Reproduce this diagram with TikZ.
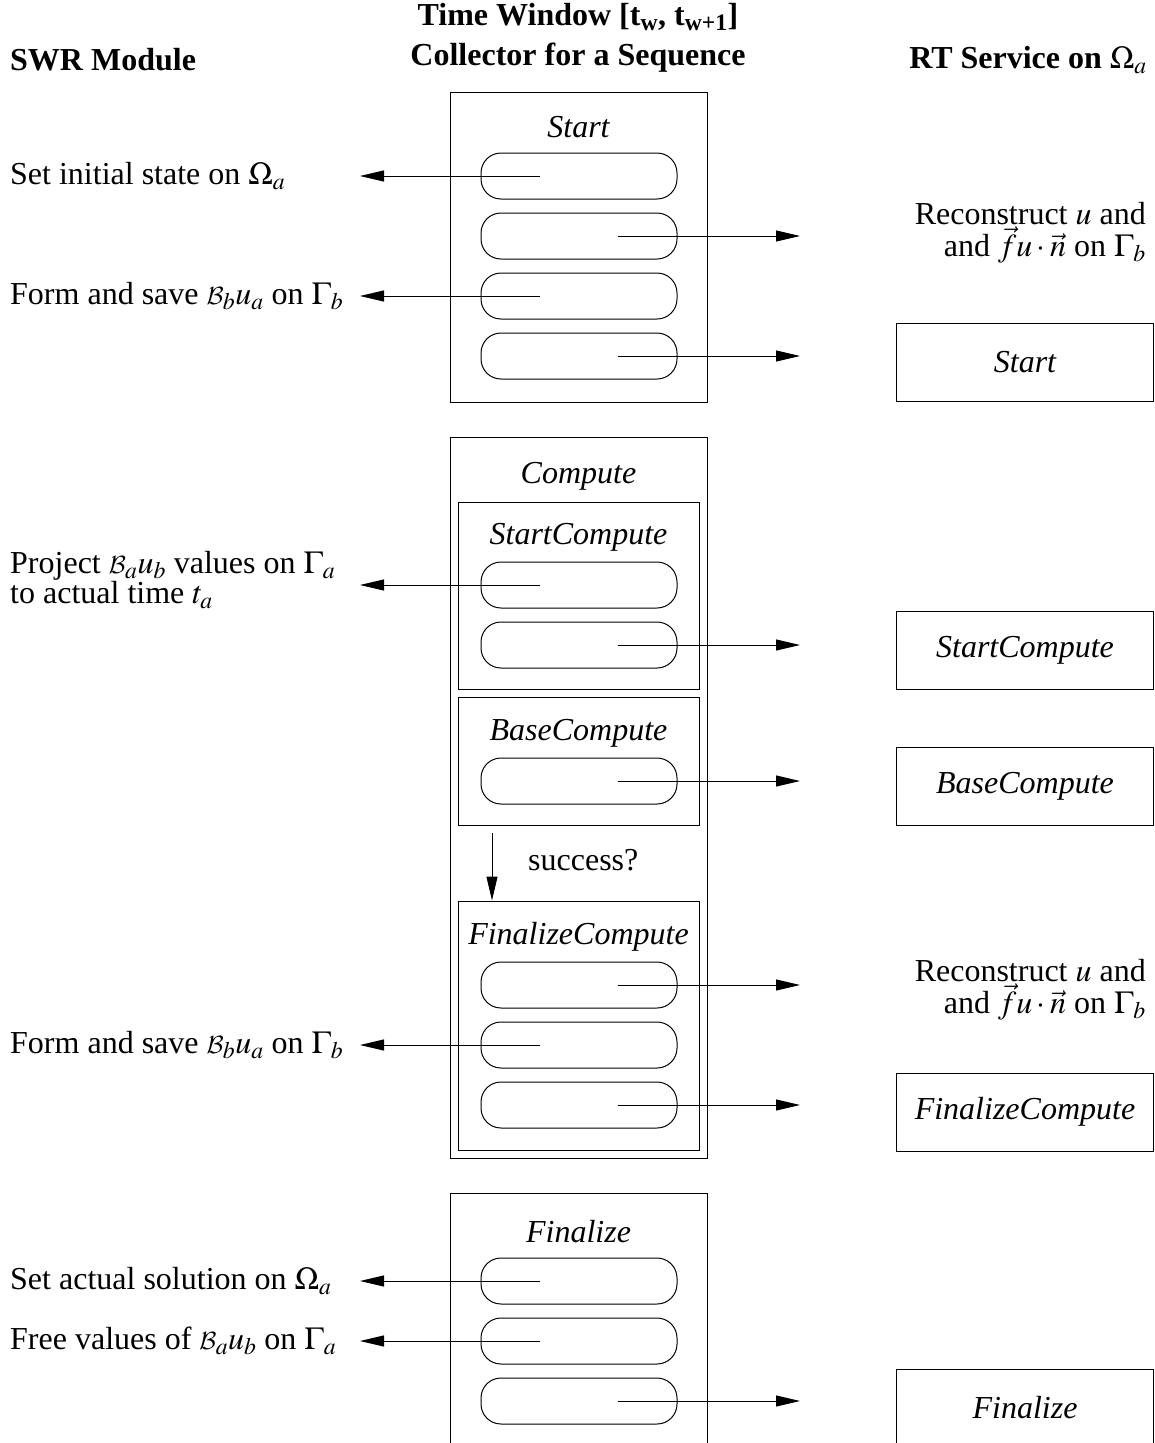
\documentclass[tikz,border=0pt]{standalone}
\usepackage{mathptmx}
\DeclareMathAlphabet{\mathcal}{OMS}{cmsy}{m}{n}
\usepackage[no-math]{fontspec}
\setmainfont{Liberation Serif}
\usetikzlibrary{arrows.meta}
\begin{document}
\begin{tikzpicture}[x=1pt,y=-1pt,
  font=\fontsize{32}{30}\selectfont,
  frame/.style={draw, line width=1pt, minimum width=257pt, inner sep=0pt},
  subframe/.style={draw, line width=1pt, minimum width=241pt, inner sep=0pt},
  rb/.style={draw, line width=1pt, rounded corners=20pt, minimum width=196pt, minimum height=46pt, inner sep=0pt},
  rbox/.style={draw, line width=1pt, minimum width=257pt, minimum height=78pt, inner sep=0pt, font=\fontsize{32}{30}\selectfont\itshape},
  ttl/.style={font=\fontsize{32}{30}\selectfont\itshape, inner sep=0pt},
  lab/.style={inner sep=0pt, anchor=west, align=left},
  rlab/.style={inner sep=0pt, anchor=east, align=right},
  hdr/.style={inner sep=0pt, font=\fontsize{32}{32}\selectfont\bfseries},
  arr/.style={line width=1pt, -{Triangle[length=24pt,width=11pt]}}]
\useasboundingbox (0,0) rectangle (1155,1443);
\clip (0,0) rectangle (1155,1443);

% headers
\node[hdr] (h1) at (578,17) {Time Window [t\textsubscript{w}, t\textsubscript{w+1}]};
\node[hdr] (h2) at (578,58) {Collector for a Sequence};
\node[hdr, anchor=west] (h3) at (10,60) {SWR Module};
\node[hdr, anchor=east] (h4) at (1147,60) {RT Service on \mdseries$\Omega_a$};

% ---------- Start ----------
\node[frame, minimum height=310pt] (startF) at (578.5,247) {};
\node[ttl] (startT) at (578.5,127) {Start};
\node[rb] (s1) at (579,176) {};
\node[rb] (s2) at (579,236) {};
\node[rb] (s3) at (579,296) {};
\node[rb] (s4) at (579,356) {};
\node[lab] (ls1) at (10,176) {Set initial state on $\Omega_a$};
\node[lab] (ls3) at (10,296) {Form and save $\mathcal{B}_b u_a$ on $\Gamma_b$};
\node[rlab] (rs2) at (1146,233) {Reconstruct $u$ and\\and $\vec{f}u\cdot\vec{n}$ on $\Gamma_b$};
\node[rbox] (RStart) at (1025,362) {Start};
\coordinate (t1) at (360,176);
\coordinate (t2) at (800,236);
\coordinate (t3) at (360,296);
\coordinate (t4) at (800,356);
\draw[arr] ([xshift=-39pt]s1.center) -- (t1);
\draw[arr] ([xshift=39pt]s2.center) -- (t2);
\draw[arr] ([xshift=-39pt]s3.center) -- (t3);
\draw[arr] ([xshift=39pt]s4.center) -- (t4);

% ---------- Compute ----------
\node[frame, minimum height=721pt] (compF) at (578.5,797.5) {};
\node[ttl] (compT) at (578.5,476) {Compute};
% StartCompute
\node[subframe, minimum height=187pt] (scF) at (578.5,595.5) {};
\node[ttl] (scT) at (578.5,537) {StartCompute};
\node[rb] (c1) at (579,585) {};
\node[rb] (c2) at (579,645) {};
\node[lab] (lc1) at (10,580) {Project $\mathcal{B}_a u_b$ values on $\Gamma_a$\\to actual time $t_a$};
\node[rbox] (RSC) at (1025,650) {StartCompute};
\coordinate (t5) at (360,585);
\coordinate (t6) at (800,645);
\draw[arr] ([xshift=-39pt]c1.center) -- (t5);
\draw[arr] ([xshift=39pt]c2.center) -- (t6);
% BaseCompute
\node[subframe, minimum height=128pt] (bcF) at (578.5,761) {};
\node[ttl] (bcT) at (578.5,733) {BaseCompute};
\node[rb] (b1) at (579,781) {};
\node[rbox] (RBC) at (1025,786) {BaseCompute};
\coordinate (t7) at (800,781);
\draw[arr] ([xshift=39pt]b1.center) -- (t7);
% success
\coordinate (su1) at (492,833);
\node[inner sep=0pt, anchor=west] (suc) at (528,860) {success?};
% FinalizeCompute
\node[subframe, minimum height=249pt] (fcF) at (578.5,1025.5) {};
\node[ttl] (fcT) at (578.5,937) {FinalizeCompute};
\draw[arr] (su1) -- (su1 |- fcF.north);
\node[rb] (f1) at (579,985) {};
\node[rb] (f2) at (579,1045) {};
\node[rb] (f3) at (579,1105) {};
\node[rlab] (rf1) at (1146,990) {Reconstruct $u$ and\\and $\vec{f}u\cdot\vec{n}$ on $\Gamma_b$};
\node[lab] (lf2) at (10,1045) {Form and save $\mathcal{B}_b u_a$ on $\Gamma_b$};
\node[rbox] (RFC) at (1025,1112) {FinalizeCompute};
\coordinate (t8) at (800,985);
\coordinate (t9) at (360,1045);
\coordinate (t10) at (800,1105);
\draw[arr] ([xshift=39pt]f1.center) -- (t8);
\draw[arr] ([xshift=-39pt]f2.center) -- (t9);
\draw[arr] ([xshift=39pt]f3.center) -- (t10);

% ---------- Finalize ----------
\node[frame, minimum height=290pt] (finF) at (578.5,1338) {};
\node[ttl] (finT) at (578.5,1232) {Finalize};
\node[rb] (g1) at (579,1281) {};
\node[rb] (g2) at (579,1341) {};
\node[rb] (g3) at (579,1401) {};
\node[lab] (lg1) at (10,1281) {Set actual solution on $\Omega_a$};
\node[lab] (lg2) at (10,1341) {Free values of $\mathcal{B}_a u_b$ on $\Gamma_a$};
\node[rbox] (RFin) at (1025,1408) {Finalize};
\coordinate (t11) at (360,1281);
\coordinate (t12) at (360,1341);
\coordinate (t13) at (800,1401);
\draw[arr] ([xshift=-39pt]g1.center) -- (t11);
\draw[arr] ([xshift=-39pt]g2.center) -- (t12);
\draw[arr] ([xshift=39pt]g3.center) -- (t13);
\end{tikzpicture}
\end{document}
